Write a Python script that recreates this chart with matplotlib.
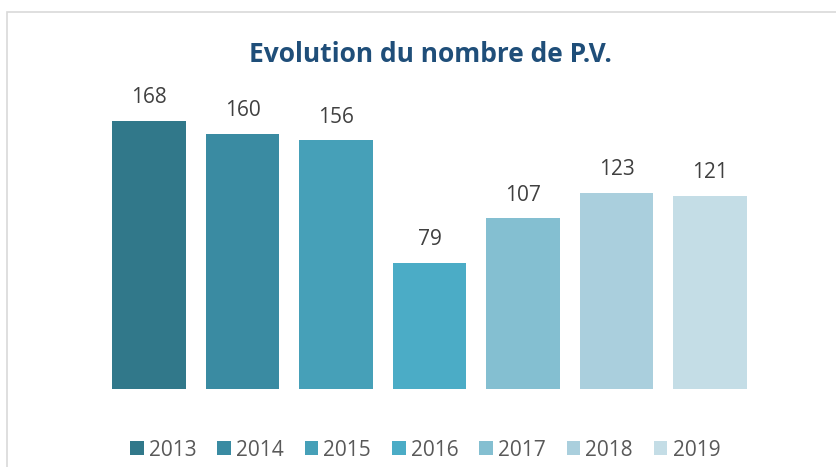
import matplotlib.pyplot as plt
from matplotlib.patches import Rectangle, Patch

years = ["2013", "2014", "2015", "2016", "2017", "2018", "2019"]
pv_counts = [168, 160, 156, 79, 107, 123, 121]
bar_colors = ["#31788A", "#3A8BA2", "#46A0B8", "#4BACC6", "#84BFD1", "#AACFDD", "#C4DDE6"]

plt.rcParams["font.family"] = ["Open Sans", "DejaVu Sans"]

fig = plt.figure(figsize=(8.37, 4.67), dpi=100)
fig.patch.set_facecolor("white")

# outer chart frame, like the spreadsheet chart area
fig.patches.append(Rectangle((7 / 837, -0.05), 1.0, 1 - 12 / 467 + 0.05,
                             transform=fig.transFigure, fill=False,
                             edgecolor="#D9D9D9", linewidth=1.2))

ax = fig.add_axes([0.1222, 0.167, 0.782, 0.615])
x = range(len(years))
bars = ax.bar(x, pv_counts, width=0.79, color=bar_colors)

for rect, val in zip(bars, pv_counts):
    ax.annotate(str(val), (rect.get_x() + rect.get_width() / 2, val),
                xytext=(0, 9), textcoords="offset points",
                ha="center", va="bottom", fontsize=15, color="#404040")

ax.set_xlim(-0.5, len(years) - 0.5)
ax.set_ylim(0, 180)
ax.axis("off")

fig.text(0.514, 0.883, "Evolution du nombre de P.V.", ha="center", va="center",
         fontsize=19, fontweight="bold", color="#1F4E79")

handles = [Patch(facecolor=c, edgecolor="none") for c in bar_colors]
fig.legend(handles, years, loc="center", bbox_to_anchor=(0.508, 0.036), ncol=7,
           frameon=False, fontsize=15, handlelength=0.65, handleheight=0.65,
           handletextpad=0.25, columnspacing=1.0, labelcolor="#595959")

fig.savefig("out.png", dpi=100)
